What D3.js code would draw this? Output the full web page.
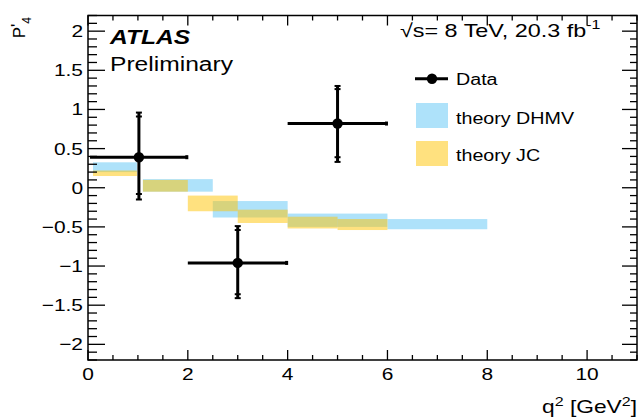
<!DOCTYPE html>
<html>
<head>
<meta charset="utf-8">
<script src="https://cdn.jsdelivr.net/npm/d3@7"></script>
<style>
  html, body { margin: 0; padding: 0; background: #fff; }
  svg { display: block; }
  text { font-family: "Liberation Sans", Arial, Helvetica, sans-serif; fill: #000; }
</style>
</head>
<body>
<script>
// Measured P'4 in bins of q^2 [GeV^2]
const dataX    = [1.02, 3, 5];
const dataXLo  = [0.04, 2, 4];
const dataXHi  = [2, 4, 6];
const dataY    = [0.39, -0.96, 0.82];
const statUp   = [0.52, 0.42, 0.44];
const statDown = [0.47, 0.40, 0.43];
const totUp    = [0.57, 0.47, 0.48];
const totDown  = [0.54, 0.45, 0.49];

// Theory prediction bands (q^2 bin edges and P'4 band limits)
const dhmvLo   = [0.1, 1.1, 2.5, 4, 6];
const dhmvHi   = [0.98, 2.5, 4, 6, 8];
const dhmvMin  = [0.20, -0.05, -0.38, -0.50, -0.53];
const dhmvMax  = [0.325, 0.11, -0.17, -0.33, -0.40];

const jcLo     = [0.1, 1.1, 2, 3, 4, 5];
const jcHi     = [0.98, 2, 3, 4, 5, 6];
const jcMin    = [0.15, -0.05, -0.30, -0.45, -0.52, -0.54];
const jcMax    = [0.22, 0.10, -0.10, -0.28, -0.37, -0.40];

const xTicks = [0, 2, 4, 6, 8, 10];
const yTicks = [-2, -1.5, -1, -0.5, 0, 0.5, 1, 1.5, 2];
const legendLabels = ["Data", "theory DHMV", "theory JC"];

const W = 640, H = 419;
const frame = { left: 88, right: 637, top: 15.5, bottom: 360 };
const SX = 1.23; // horizontal text stretch

const svg = d3.select("body").append("svg").attr("width", W).attr("height", H);

const x = d3.scaleLinear().domain([0, 11]).range([frame.left, frame.right]);
const y = d3.scaleLinear().domain([-2.2, 2.2]).range([frame.bottom, frame.top]);

function txt(g, px, py, anchor, size, weight, style) {
  return g.append("text")
    .attr("transform", `translate(${px},${py}) scale(${SX},1)`)
    .attr("text-anchor", anchor || "start")
    .attr("font-size", size)
    .attr("font-weight", weight || "normal")
    .attr("font-style", style || "normal");
}

const blue = "#aee2fa";
const yellow = "#ffc400";
const yellowOpacity = 0.5;

// theory bands
const bands = svg.append("g");
bands.selectAll("rect.dhmv").data(dhmvLo).join("rect").attr("class", "dhmv")
  .attr("x", (d, i) => x(dhmvLo[i]))
  .attr("width", (d, i) => x(dhmvHi[i]) - x(dhmvLo[i]))
  .attr("y", (d, i) => y(dhmvMax[i]))
  .attr("height", (d, i) => y(dhmvMin[i]) - y(dhmvMax[i]))
  .attr("fill", blue);
bands.selectAll("rect.jc").data(jcLo).join("rect").attr("class", "jc")
  .attr("x", (d, i) => x(jcLo[i]))
  .attr("width", (d, i) => x(jcHi[i]) - x(jcLo[i]))
  .attr("y", (d, i) => y(jcMax[i]))
  .attr("height", (d, i) => y(jcMin[i]) - y(jcMax[i]))
  .attr("fill", yellow).attr("fill-opacity", yellowOpacity);

// data points with stat and total error bars
const pts = svg.append("g").attr("stroke", "#000");
dataX.forEach((xv, i) => {
  const cx = x(xv), cy = y(dataY[i]);
  pts.append("line").attr("x1", x(dataXLo[i])).attr("x2", x(dataXHi[i]))
    .attr("y1", cy).attr("y2", cy).attr("stroke-width", 3);
  pts.append("line").attr("x1", x(dataXHi[i]) - 1).attr("x2", x(dataXHi[i]) - 1)
    .attr("y1", cy - 2).attr("y2", cy + 2).attr("stroke-width", 3);
  pts.append("line").attr("x1", cx).attr("x2", cx)
    .attr("y1", y(dataY[i] + totUp[i])).attr("y2", y(dataY[i] - totDown[i]))
    .attr("stroke-width", 3);
  [dataY[i] + totUp[i], dataY[i] - totDown[i], dataY[i] + statUp[i], dataY[i] - statDown[i]]
    .forEach(v => {
      pts.append("line").attr("x1", cx - 3).attr("x2", cx + 3)
        .attr("y1", y(v)).attr("y2", y(v)).attr("stroke-width", 2);
    });
  pts.append("circle").attr("cx", cx).attr("cy", cy).attr("r", 5.2)
    .attr("fill", "#000").attr("stroke", "none");
});

// frame and ticks
const ax = svg.append("g").attr("stroke", "#000").attr("stroke-width", 1.3);
ax.append("rect").attr("x", frame.left).attr("y", frame.top)
  .attr("width", frame.right - frame.left).attr("height", frame.bottom - frame.top)
  .attr("fill", "none").attr("stroke-width", 1.5);

const xMinor = d3.range(0, 11.001, 0.5);
xMinor.forEach(v => {
  const major = Math.abs(v / 2 - Math.round(v / 2)) < 1e-6;
  const len = major ? 10 : 5;
  ax.append("line").attr("x1", x(v)).attr("x2", x(v))
    .attr("y1", frame.bottom).attr("y2", frame.bottom - len);
  ax.append("line").attr("x1", x(v)).attr("x2", x(v))
    .attr("y1", frame.top).attr("y2", frame.top + len);
});
const yMinor = d3.range(-22, 23).map(k => k / 10);
yMinor.forEach(v => {
  const major = Math.abs(v * 2 - Math.round(v * 2)) < 1e-6;
  const lenL = major ? 17 : 9;
  const lenR = major ? 15 : 7;
  ax.append("line").attr("x1", frame.left).attr("x2", frame.left + lenL)
    .attr("y1", y(v)).attr("y2", y(v));
  ax.append("line").attr("x1", frame.right).attr("x2", frame.right - lenR)
    .attr("y1", y(v)).attr("y2", y(v));
});

// tick labels
const fmt = v => (v < 0 ? "\u2212" : "") + String(Math.abs(v));
xTicks.forEach(v => txt(svg, x(v), 380, "middle", 17).text(fmt(v)));
yTicks.forEach(v => txt(svg, 83, y(v) + 6, "end", 17).text(fmt(v)));

// axis titles
const xt = txt(svg, frame.right, 413, "end", 18.5);
xt.append("tspan").text("q");
xt.append("tspan").attr("dy", -7).attr("font-size", 13).text("2");
xt.append("tspan").attr("dy", 7).text(" [GeV");
xt.append("tspan").attr("dy", -7).attr("font-size", 13).text("2");
xt.append("tspan").attr("dy", 7).text("]");

const yt = svg.append("text")
  .attr("transform", `translate(25,17) rotate(-90)`)
  .attr("text-anchor", "end").attr("font-size", 17);
yt.append("tspan").text("P");
yt.append("tspan").attr("dy", -2).text("'");
yt.append("tspan").attr("dy", 8).attr("font-size", 12).text("4");

// labels
txt(svg, 110, 44, "start", 20, "bold", "italic").text("ATLAS");
txt(svg, 110, 71, "start", 20).text("Preliminary");
const lumi = txt(svg, 400, 37, "start", 19);
lumi.append("tspan").text("\u221As= 8 TeV, 20.3 fb");
lumi.append("tspan").attr("dy", -8).attr("font-size", 13).text("-1");

// legend
const lg = svg.append("g");
lg.append("line").attr("x1", 415).attr("x2", 448).attr("y1", 78.7).attr("y2", 78.7)
  .attr("stroke", "#000").attr("stroke-width", 3);
lg.append("circle").attr("cx", 432).attr("cy", 78.7).attr("r", 5.2).attr("fill", "#000");
lg.append("rect").attr("x", 416).attr("y", 103).attr("width", 32).attr("height", 25).attr("fill", blue);
lg.append("rect").attr("x", 416).attr("y", 141).attr("width", 32).attr("height", 25)
  .attr("fill", yellow).attr("fill-opacity", yellowOpacity);
txt(lg, 456, 85, "start", 16).text(legendLabels[0]);
txt(lg, 456, 123.5, "start", 16).text(legendLabels[1]);
txt(lg, 456, 161, "start", 16).text(legendLabels[2]);
</script>
</body>
</html>
